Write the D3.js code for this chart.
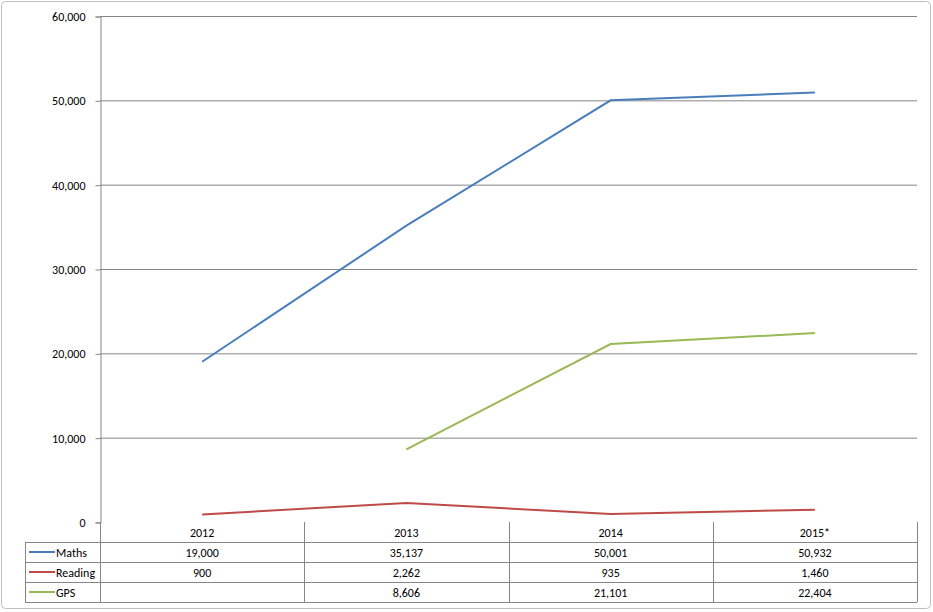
<!DOCTYPE html>
<html><head><meta charset="utf-8">
<script src="https://cdn.jsdelivr.net/npm/d3@7"></script>
<style>body{margin:0;background:#fff}text{font-family:Calibri,"Liberation Sans",Arial,sans-serif;font-size:12px;fill:#000}</style>
</head><body><svg id="c" width="933" height="612"></svg>
<script>
var categories = ['2012', '2013', '2014', '2015*']
var maths = [19000, 35137, 50001, 50932]
var reading = [900, 2262, 935, 1460]
var gps = [null, 8606, 21101, 22404]
var yTicks = [0, 10000, 20000, 30000, 40000, 50000, 60000]

var series = [
    {name: 'Maths', values: maths, color: '#4a7ebb'},
    {name: 'Reading', values: reading, color: '#be4b48'},
    {name: 'GPS', values: gps, color: '#98b954'}
]

var svg = d3.select('#c'),
    plotLeft = 100, plotRight = 917, plotTop = 16, plotBottom = 522,
    rowH = 20, tableLeft = 25

svg.append('rect').attr('x', 1.5).attr('y', 1.5).attr('width', 929).attr('height', 607)
    .attr('rx', 4).attr('fill', '#fff').attr('stroke', '#bfbfbf')

var x = d3.scaleBand().domain(categories).range([plotLeft, plotRight])
var y = d3.scaleLinear().domain([0, 60000]).range([plotBottom, plotTop])
var fmt = d3.format(',')

// gridlines
svg.append('g').selectAll('line').data(yTicks.slice(1)).join('line')
    .attr('x1', plotLeft).attr('x2', plotRight)
    .attr('y1', function(d) { return y(d) + 0.5 }).attr('y2', function(d) { return y(d) + 0.5 })
    .attr('stroke', '#868686')

// y axis
var yAxis = svg.append('g').attr('transform', 'translate(' + (plotLeft + 0.5) + ',0.5)')
    .call(d3.axisLeft(y).tickValues(yTicks).tickFormat(fmt).tickSize(5).tickPadding(10))
yAxis.select('.domain').attr('stroke', '#868686')
yAxis.selectAll('line').attr('stroke', '#868686')
yAxis.selectAll('text').style('font-size', '12px').attr('fill', '#000')

// lines
var line = d3.line()
    .defined(function(d) { return d != null })
    .x(function(d, i) { return x(categories[i]) + x.bandwidth() / 2 })
    .y(function(d) { return y(d) })
svg.append('g').selectAll('path').data(series).join('path')
    .attr('d', function(s) { return line(s.values) })
    .attr('fill', 'none').attr('stroke', function(s) { return s.color }).attr('stroke-width', 2)

// data table
var t = svg.append('g').attr('stroke', '#868686').attr('shape-rendering', 'crispEdges')
var tableBottom = plotBottom + rowH * 4
for (var r = 1; r <= 4; r++) {
    t.append('line').attr('x1', tableLeft).attr('x2', plotRight)
        .attr('y1', plotBottom + r * rowH + 0.5).attr('y2', plotBottom + r * rowH + 0.5)
}
t.append('line').attr('x1', tableLeft + 0.5).attr('x2', tableLeft + 0.5)
    .attr('y1', plotBottom + rowH).attr('y2', tableBottom)
t.selectAll('.v').data(categories.concat(['end'])).join('line')
    .attr('x1', function(d, i) { return (i < 4 ? x(d) : plotRight) + 0.5 })
    .attr('x2', function(d, i) { return (i < 4 ? x(d) : plotRight) + 0.5 })
    .attr('y1', plotBottom).attr('y2', tableBottom)

svg.append('g').selectAll('text').data(categories).join('text')
    .attr('x', function(d) { return x(d) + x.bandwidth() / 2 }).attr('y', plotBottom + 15)
    .attr('text-anchor', 'middle').text(function(d) { return d })

series.forEach(function(s, r) {
    var cy = plotBottom + (r + 1) * rowH
    svg.append('line').attr('x1', tableLeft + 4).attr('x2', tableLeft + 30)
        .attr('y1', cy + 10).attr('y2', cy + 10).attr('stroke', s.color).attr('stroke-width', 2)
    svg.append('text').attr('x', tableLeft + 31).attr('y', cy + 15).text(s.name)
    svg.append('g').selectAll('text').data(s.values).join('text')
        .attr('x', function(d, i) { return x(categories[i]) + x.bandwidth() / 2 })
        .attr('y', cy + 15).attr('text-anchor', 'middle')
        .text(function(d) { return d == null ? '' : fmt(d) })
})
</script></body></html>
